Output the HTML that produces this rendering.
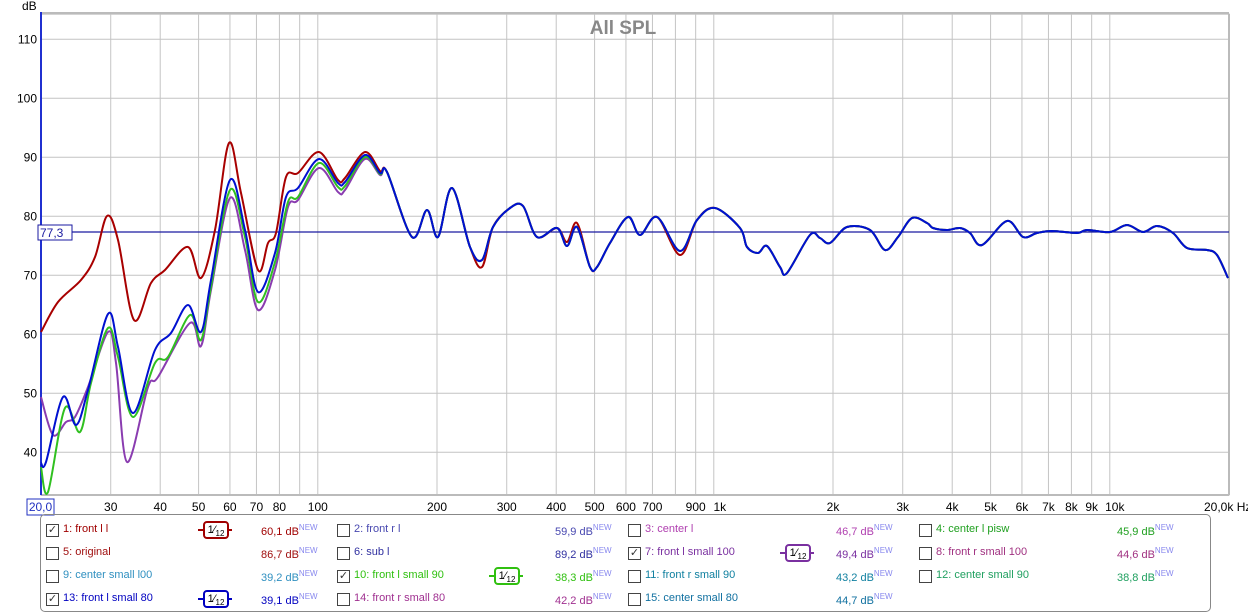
<!DOCTYPE html>
<html><head><meta charset="utf-8"><style>
body{margin:0;background:#fff;width:1248px;height:613px;overflow:hidden;font-family:"Liberation Sans",sans-serif;}
svg{position:absolute;left:0;top:0}
.lg{position:absolute;font-size:11px;white-space:nowrap}
.cb{position:absolute;width:11px;height:11px;border:1px solid #444;background:#fff;font-size:11px;line-height:11px;text-align:center;color:#333}
.val{position:absolute;font-size:11px;white-space:nowrap}
.val sup{font-size:8px;color:#8888ee;vertical-align:5px}
</style></head><body>
<svg width="1248" height="613" id="s" font-family="Liberation Sans, sans-serif"></svg>
<div style="position:absolute;left:40px;top:514px;width:1169px;height:96px;border:1px solid #888;border-radius:5px"></div>
<div id="leg"></div>
<script>
const s=document.getElementById('s');let h='';
const X=f=>41+396*Math.log10(f/20), Y=d=>39.3+(110-d)*5.9;
h+='<rect x="41" y="14" width="1188" height="481" fill="#fff" stroke="#aaa"/>';
let fs=[30,40,50,60,70,80,90,100,200,300,400,500,600,700,800,900,1000,2000,3000,4000,5000,6000,7000,8000,9000,10000];
fs.forEach(f=>{h+=`<line x1="${X(f)}" y1="14" x2="${X(f)}" y2="495" stroke="#c4c4c4"/>`});
for(let d=40;d<=110;d+=10){h+=`<line x1="41" y1="${Y(d)}" x2="1229" y2="${Y(d)}" stroke="#c4c4c4"/><text x="37" y="${Y(d)+4}" font-size="12" text-anchor="end">${d}</text>`}
h+='<line x1="41" y1="13" x2="1229" y2="13" stroke="#bbb" stroke-width="2"/>';
h+='<line x1="1229" y1="14" x2="1229" y2="495" stroke="#bbb" stroke-width="2"/><line x1="41" y1="495" x2="1229" y2="495" stroke="#bbb" stroke-width="2"/>';
h+='<line x1="41" y1="12" x2="41" y2="495" stroke="#2030d0" stroke-width="2"/>';
h+='<text x="22" y="10" font-size="12">dB</text>';
h+='<text x="623" y="34" font-size="19" font-weight="bold" fill="#888" text-anchor="middle">All SPL</text>';
const lab=[[30,'30'],[40,'40'],[50,'50'],[60,'60'],[70,'70'],[80,'80'],[100,'100'],[200,'200'],[300,'300'],[400,'400'],[500,'500'],[600,'600'],[700,'700'],[900,'900'],[1000,'1k'],[2000,'2k'],[3000,'3k'],[4000,'4k'],[5000,'5k'],[6000,'6k'],[7000,'7k'],[8000,'8k'],[9000,'9k'],[10000,'10k']];
lab.forEach(([f,t])=>{h+=`<text x="${X(f)+(f==1000?6:f==10000?5:0)}" y="511" font-size="12" text-anchor="middle">${t}</text>`});
h+='<text x="1204" y="511" font-size="12">20,0k Hz</text>';
h+='<rect x="27" y="499" width="27" height="16" fill="#fff" stroke="#2030c0"/><text x="40.5" y="511" font-size="12" text-anchor="middle" fill="#2030c0">20,0</text>';
h+='<line x1="41" y1="232" x2="1229" y2="232" stroke="#1a1aa0" stroke-width="1.2"/>';
h+='<rect x="38" y="225" width="34" height="15" fill="#fff" stroke="#1a1aa0"/><text x="40" y="237" font-size="12" fill="#1a1aa0">77,3</text>';
const common=[[387,172],[412,237],[427,210],[438,237],[452,188],[470,247],[482,260],[493,227],[510,208],[523,206],[537,237],[557,228],[567,246],[577,227],[590,267],[597,267],[610,243],[628,217],[640,235],[657,217],[680,251],[697,220],[715,208],[740,228],[747,247],[758,253],[767,246],[780,267],[787,273],[810,235],[820,238],[830,243],[847,227],[870,230],[885,250],[898,237],[912,218],[927,223],[933,228],[947,230],[960,228],[970,233],[982,245],[1007,221],[1023,237],[1037,233],[1052,231],[1077,233],[1087,230],[1110,232],[1127,225],[1143,232],[1157,226],[1173,233],[1187,248],[1207,250],[1217,255],[1228,278]];
const red=[[41,332],[58,302],[81,280],[95,257],[107,216],[118,240],[134,320],[151,283],[165,270],[188,247],[201,278],[215,230],[229,143],[241,193],[258,270],[268,243],[276,233],[286,177],[298,173],[319,152],[338,180],[345,178],[365,152],[380,171]];
const blue=[[41,463],[46,462],[63,397],[76,425],[88,390],[108,314],[118,347],[133,413],[155,350],[171,333],[188,305],[201,332],[211,280],[230,180],[245,230],[258,292],[275,253],[286,197],[298,188],[319,159],[338,183],[345,182],[365,155],[380,173]];
const green=[[41,467],[48,492],[65,408],[80,432],[91,383],[108,328],[118,357],[133,417],[155,363],[168,357],[190,315],[201,340],[211,287],[230,190],[245,237],[258,302],[275,262],[288,202],[298,197],[319,163],[338,187],[345,186],[365,157],[380,174]];
const purp=[[41,397],[53,435],[66,422],[75,417],[88,387],[108,332],[116,363],[127,462],[148,387],[158,377],[190,323],[201,346],[211,290],[230,198],[245,250],[258,310],[275,270],[288,207],[298,200],[319,168],[338,192],[345,190],[365,159],[380,175]];
function path(p){let d=`M${p[0][0]},${p[0][1]}`;for(let i=0;i<p.length-1;i++){const a=p[Math.max(0,i-1)],b=p[i],c=p[i+1],e=p[Math.min(p.length-1,i+2)];d+=`C${b[0]+(c[0]-a[0])/6},${b[1]+(c[1]-a[1])/6} ${c[0]-(e[0]-b[0])/6},${c[1]-(e[1]-b[1])/6} ${c[0]},${c[1]}`}return d}
const redc=common.map(([x,y])=>[x,(x==482?267:x==567?242:x==577?223:x==680?255:y)]);
h+=`<path d="${path(red.concat(redc))}" fill="none" stroke="#a80000" stroke-width="2"/>`;
h+=`<path d="${path(purp.concat(common))}" fill="none" stroke="#8a3cb0" stroke-width="2"/>`;
h+=`<path d="${path(green.concat(common))}" fill="none" stroke="#30c020" stroke-width="2"/>`;
h+=`<path d="${path(blue.concat(common))}" fill="none" stroke="#0010d0" stroke-width="2"/>`;
s.innerHTML=h;
const L=[
[[1,'1: front l l','#a00000','60,1',1,'#a00000'],[0,'2: front r l','#4848b0','59,9'],[0,'3: center l','#b040b0','46,7'],[0,'4: center l pisw','#20a020','45,9']],
[[0,'5: original','#a01010','86,7'],[0,'6: sub l','#3030a0','89,2'],[1,'7: front l small 100','#7a30a0','49,4',1,'#7a30a0'],[0,'8: front r small 100','#a03080','44,6']],
[[0,'9: center small l00','#3090c0','39,2'],[1,'10: front l small 90','#30c010','38,3',1,'#30c010'],[0,'11: front r small 90','#1080a0','43,2'],[0,'12: center small 90','#20a060','38,8']],
[[1,'13: front l small 80','#0000c0','39,1',1,'#0000c0'],[0,'14: front r small 80','#a03090','42,2'],[0,'15: center small 80','#1070a0','44,7']]];
const voff=[215,218,208,198];
let g='';L.forEach((row,r)=>row.forEach((c,i)=>{const x=46+291*i,y=524+23*r;
g+=`<div class="cb" style="left:${x}px;top:${y}px">${c[0]?'✓':''}</div><div class="lg" style="left:${x+17}px;top:${y-1}px;color:${c[2]}">${c[1]}</div>`;
if(c[4])g+=`<div style="position:absolute;left:${x+152}px;top:${y+5}px;width:34px;height:2px;background:${c[5]}"></div><div style="position:absolute;left:${x+157}px;top:${y-3}px;width:22px;height:14px;border:2px solid ${c[5]};border-radius:4px;background:#fff;font-size:11px;line-height:14px;text-align:center;color:#000">1⁄<sub style="font-size:8px">12</sub></div>`;
g+=`<div class="val" style="left:${x+voff[i]}px;top:${y-1}px;color:${c[2]}">${c[3]} dB<sup>NEW</sup></div>`;}));
document.getElementById('leg').innerHTML=g;
</script>
</body></html>
